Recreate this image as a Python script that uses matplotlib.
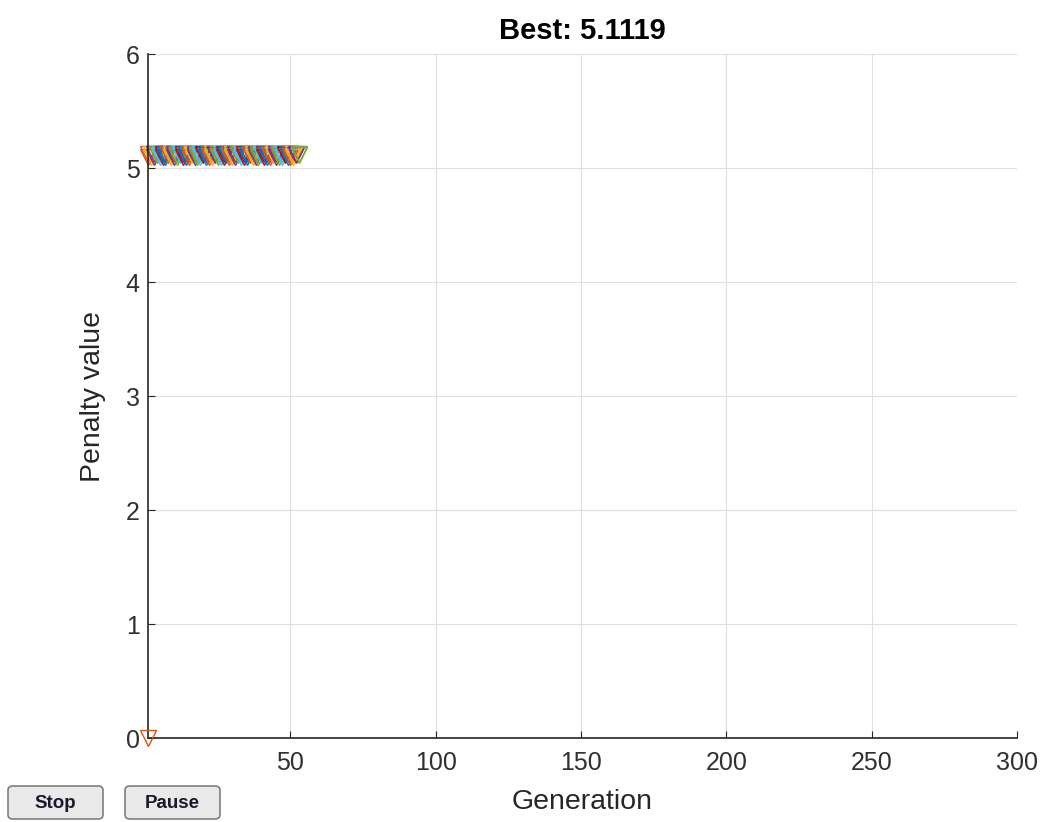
import matplotlib
matplotlib.use("Agg")
import matplotlib.pyplot as plt
from matplotlib.patches import FancyBboxPatch

plt.rcParams['font.family'] = ['Liberation Sans', 'DejaVu Sans']

# MATLAB default color order
matlab_colors = ['#0072BD', '#D95319', '#EDB120', '#7E2F8E', '#77AC30', '#4DBEEE', '#A2142F']

generations = list(range(1, 54))
# penalty values per generation (upper and lower edge of the band)
pen_high = [5.125, 5.12, 5.125, 5.12, 5.125, 5.125, 5.12, 5.125, 5.12, 5.125,
            5.125, 5.12, 5.125, 5.12, 5.125, 5.12, 5.125, 5.125, 5.12, 5.125,
            5.12, 5.125, 5.125, 5.12, 5.125, 5.12, 5.125, 5.125, 5.12, 5.125,
            5.12, 5.125, 5.125, 5.12, 5.125, 5.12, 5.125, 5.125, 5.12, 5.125,
            5.12, 5.125, 5.125, 5.12, 5.125, 5.12, 5.125, 5.125, 5.12, 5.125,
            5.12, 5.125, 5.125]
pen_low = [5.095, 5.10, 5.097, 5.1119, 5.095, 5.10, 5.097, 5.1119, 5.095, 5.10,
           5.097, 5.1119, 5.095, 5.10, 5.097, 5.1119, 5.095, 5.10, 5.097, 5.1119,
           5.095, 5.10, 5.097, 5.1119, 5.095, 5.10, 5.097, 5.1119, 5.095, 5.10,
           5.097, 5.1119, 5.095, 5.10, 5.097, 5.1119, 5.095, 5.10, 5.097, 5.1119,
           5.095, 5.10, 5.097, 5.1119, 5.095, 5.10, 5.097, 5.1119, 5.095, 5.10,
           5.097, 5.1119, 5.1119]
outlier_gen = [1]
outlier_pen = [0.0]
best_value = 5.1119

W, H = 1046, 822
fig = plt.figure(figsize=(W / 100, H / 100), dpi=100)
ax = fig.add_axes([148 / W, 1 - 738 / H, 869 / W, 684 / H])

for i, g in enumerate(generations):
    c = matlab_colors[g % 7]
    ax.plot([g, g], [pen_high[i], pen_low[i]], 'v', color=c, mfc='none',
            ms=11, mew=1.0, linestyle='none', clip_on=False)
ax.plot(outlier_gen, outlier_pen, 'v', color=matlab_colors[1], mfc='none',
        ms=11, mew=1.0, linestyle='none', clip_on=False, zorder=5)

ax.set_xlim(1, 300)
ax.set_ylim(0, 6)
ax.set_xticks([50, 100, 150, 200, 250, 300])
ax.set_yticks([0, 1, 2, 3, 4, 5, 6])
ax.grid(True, color='#e0e0e0', linewidth=0.8)
ax.set_axisbelow(True)
for s in ['top', 'right']:
    ax.spines[s].set_visible(False)
for s in ['left', 'bottom']:
    ax.spines[s].set_color('#262626')
    ax.spines[s].set_linewidth(1.2)
ax.tick_params(direction='in', length=5, width=0.8, colors='#262626',
               labelsize=18, labelcolor='#303030')
ax.tick_params(axis='x', pad=9)
ax.tick_params(axis='y', pad=6)
ax.set_xlabel('Generation', fontsize=20.5, color='#262626')
ax.xaxis.set_label_coords(0.5, -0.075)
ax.set_ylabel('Penalty value', fontsize=20.5, color='#262626')
ax.yaxis.set_label_coords(-0.048, 0.5)
ax.set_title('Best: ' + str(best_value), fontsize=21, fontweight='bold', pad=11)

# Stop / Pause buttons
for x0, x1, label in [(8, 103, 'Stop'), (125, 220, 'Pause')]:
    box = FancyBboxPatch((x0 / W, 1 - 819 / H), (x1 - x0) / W, 33 / H,
                         boxstyle='round,pad=0,rounding_size=0.005',
                         transform=fig.transFigure, fc='#e9e9e9', ec='#7f7f7f', lw=1.2)
    fig.patches.append(box)
    fig.text((x0 + x1) / 2 / W, 1 - 803 / H, label, ha='center', va='center',
             fontsize=13.5, fontweight='bold', color='#1a1a2e')

fig.savefig('out.png', dpi=100)
